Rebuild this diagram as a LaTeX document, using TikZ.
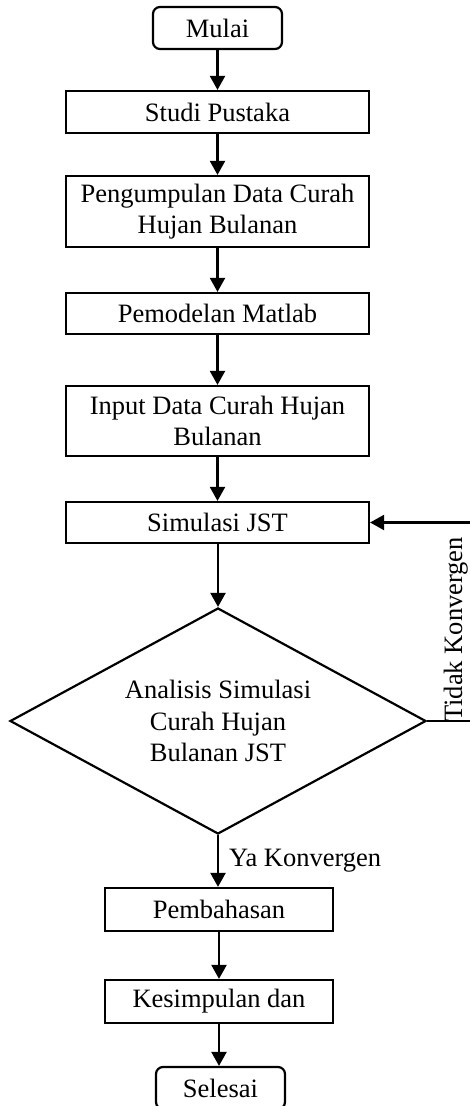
\documentclass[tikz,border=0pt]{standalone}
\usepackage{fontspec}
\setmainfont{Liberation Serif}
\usetikzlibrary{arrows.meta,shapes.geometric}
\tikzset{
  box/.style={draw, line width=2.2pt, inner sep=0pt, align=center, minimum height=42pt},
  term/.style={box, rounded corners=7pt, minimum width=129pt},
  mainbox/.style={box, minimum width=303pt},
  lowbox/.style={box, minimum width=228pt},
  decision/.style={draw, diamond, line width=2.2pt, inner sep=0pt, align=center, aspect=1.84, minimum width=416pt, minimum height=226pt},
  arr/.style={line width=2.2pt, -{Triangle[length=14pt,width=15pt]}},
  lbl/.style={inner sep=0pt}
}
\begin{document}
\begin{tikzpicture}[x=1pt,y=-1pt,font=\fontsize{26.5}{31.5}\selectfont]
\clip (0,0) rectangle (470,1106);
\node[term] (mulai) at (217.5,28) {Mulai};
\node[mainbox] (studi) at (217.5,112) {Studi Pustaka};
\node[mainbox, minimum height=71pt] (kumpul) at (217.5,211.5) {Pengumpulan Data Curah\\Hujan Bulanan};
\node[mainbox, minimum height=41pt] (model) at (217.5,313.5) {Pemodelan Matlab};
\node[mainbox, minimum height=70pt] (input) at (217.5,421) {Input Data Curah Hujan\\Bulanan};
\node[mainbox, minimum height=41pt] (sim) at (217.5,522.5) {Simulasi JST};
\node[decision] (dia) at (218,721) {Analisis Simulasi\\Curah Hujan\\Bulanan JST};
\node[lowbox, minimum height=43pt] (bahas) at (219,909.5) {Pembahasan};
\node[lowbox, minimum height=43pt] (simpul) at (219,1001.5) {Kesimpulan dan};
\node[term] (selesai) at (220.5,1088) {Selesai};
\coordinate (loop) at (471,0);

\draw[arr] (mulai.south) -- (mulai.south |- studi.north);
\draw[arr] (studi.south) -- (studi.south |- kumpul.north);
\draw[arr] (kumpul.south) -- (kumpul.south |- model.north);
\draw[arr] (model.south) -- (model.south |- input.north);
\draw[arr] (input.south) -- (input.south |- sim.north);
\draw[arr] (dia.north |- sim.south) -- (dia.north);
\draw[arr] (dia.south) -- (dia.south |- bahas.north) node[lbl, pos=0.6, anchor=base west, xshift=10pt] (ya) {Ya Konvergen};
\draw[arr] (bahas.south) -- (bahas.south |- simpul.north);
\draw[arr] (simpul.south) -- (simpul.south |- selesai.north);
\draw[arr] (dia.east) -| (loop |- sim.east) -- (sim.east);
\node[lbl, rotate=90, anchor=base west] (tidak) at (462,722) {Tidak Konvergen};
\end{tikzpicture}
\end{document}
